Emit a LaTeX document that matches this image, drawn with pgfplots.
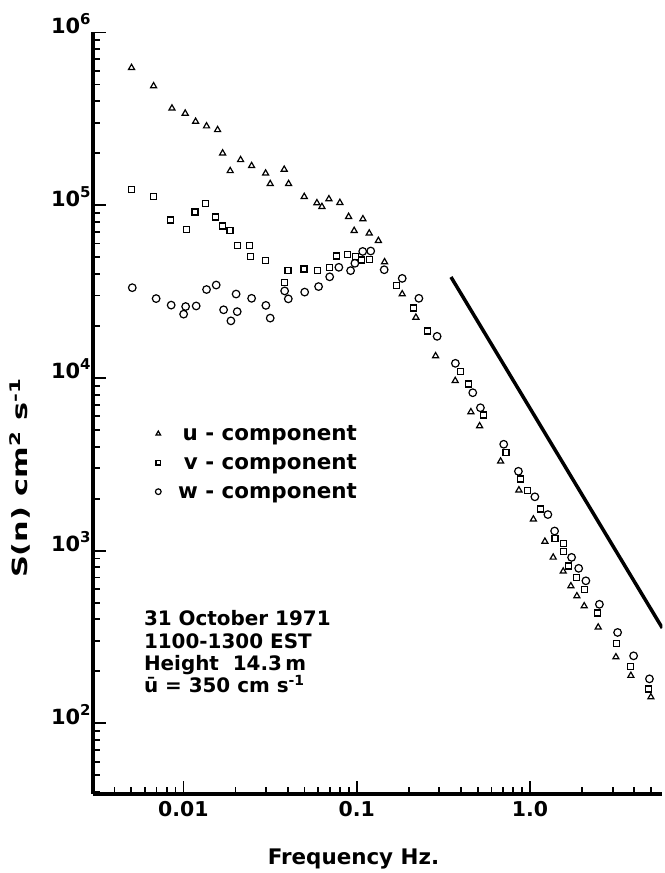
\documentclass[border=0pt]{standalone}
\usepackage{fontspec}
\setmainfont{DejaVu Sans}
\usepackage{pgfplots}
\pgfplotsset{compat=1.18}

% power-of-ten tick labels in the text font
\newcommand{\tlab}[1]{\fontsize{21}{21}\selectfont\bfseries 10\raisebox{9bp}{\fontsize{15}{15}\selectfont\bfseries #1}}

\pgfplotstableread{
f S
0.00502 625000
0.00673 490000
0.00859 364000
0.01024 340000
0.01176 305000
0.0136 287000
0.01575 273000
0.01684 200000
0.01862 158000
0.02138 183000
0.02475 169000
0.02981 153000
0.03169 133000
0.03817 161000
0.04046 133000
0.0498 112000
0.05893 103000
0.063 98000
0.06913 108600
0.07998 103400
0.08981 85800
0.0967 71200
0.1086 83200
0.1181 68800
0.1334 62300
0.1448 46900
0.1831 30600
0.2196 22400
0.2853 13400
0.3702 9630
0.456 6350
0.512 5270
0.6767 3290
0.863 2240
1.046 1520
1.219 1130
1.361 914
1.555 759
1.722 624
1.865 546
2.055 478
2.475 360
3.132 242
3.821 189
4.985 142
}\ucomp

\pgfplotstableread{
f S
0.00502 123600
0.00675 112000
0.00844 82100
0.01047 72100
0.01165 91300
0.01343 102600
0.01534 85500
0.01675 75800
0.01855 71600
0.02044 58300
0.02419 58500
0.02442 50300
0.02965 47700
0.03817 35600
0.0401 42000
0.0496 42700
0.0597 42000
0.06977 43500
0.07687 50800
0.0881 51700
0.0989 50300
0.1067 48200
0.1181 48600
0.1699 34200
0.2118 25400
0.2552 18700
0.3967 10860
0.4413 9220
0.5385 6100
0.7261 3700
0.877 2600
0.966 2235
1.151 1741
1.394 1175
1.555 1099
1.555 991
1.67 814
1.865 697
2.055 595
2.455 435
3.15 289
3.821 214
4.823 158
}\vcomp

\pgfplotstableread{
f S
0.00507 33300
0.00696 28800
0.0085 26400
0.0103 25900
0.01003 23400
0.01185 26100
0.0136 32500
0.01546 34500
0.01706 24800
0.02014 30600
0.02044 24200
0.0188 21400
0.02475 28900
0.02992 26300
0.03169 22200
0.0384 31900
0.0403 28700
0.0501 31400
0.06026 33800
0.06985 38500
0.0789 43700
0.0922 41800
0.0976 46100
0.1083 54000
0.1205 54300
0.1441 42300
0.1831 37700
0.2285 28900
0.2911 17410
0.3711 12150
0.4674 8210
0.5175 6720
0.7053 4130
0.8573 2880
1.067 2050
1.268 1618
1.387 1299
1.738 914
1.91 790
2.101 669
2.515 489
3.203 336
3.962 246
4.89 181
}\wcomp

% -5/3 reference slope
\pgfplotstableread{
f S
0.35 38400
5.8 356.6
}\slopeline

\begin{document}
\begin{tikzpicture}
\begin{axis}[
  at={(0,0)}, anchor=south west,
  scale only axis, width=569.5bp, height=761.5bp,
  xmode=log, ymode=log,
  xmin=0.003, xmax=5.8, ymin=39, ymax=1e6,
  axis x line=bottom, axis y line=left,
  axis line style={-, line width=3.6bp, black},
  tick align=inside,
  major tick length=13bp, minor tick length=7bp,
  tick style={black, line width=1.8bp},
  xtick={0.01,0.1,1}, xticklabels={0.01,0.1,1.0},
  minor xtick={0.004,0.005,0.006,0.007,0.008,0.009,0.02,0.03,0.04,0.05,0.06,0.07,0.08,0.09,0.2,0.3,0.4,0.5,0.6,0.7,0.8,0.9,2,3,4,5},
  ytick={100,1000,10000,100000,1000000},
  yticklabels={\tlab{2},\tlab{3},\tlab{4},\tlab{5},\tlab{6}},
  minor ytick={40,50,60,70,80,90,200,300,400,500,600,700,800,900,2000,3000,4000,5000,6000,7000,8000,9000,20000,30000,40000,50000,60000,70000,80000,90000,200000,300000,400000,500000,600000,700000,800000,900000},
  xticklabel style={font=\fontsize{20.5}{20.5}\selectfont\bfseries, inner sep=0pt, anchor=north, yshift=-7bp},
  yticklabel style={inner sep=0pt, anchor=south east, xshift=-2bp, yshift=-1.5bp},
  legend cell align=right,
  legend style={draw=none, fill=none, at={(0.4639,0.4859)}, anchor=north east,
    inner sep=0pt, row sep=8bp, column sep=17bp,
    font=\fontsize{21.5}{21.5}\selectfont\bfseries,
    nodes={inner sep=0pt, text height=16bp, text depth=5bp}},
  legend image code/.code={\draw[#1, every mark/.append style={scale=0.75}] plot coordinates {(0bp,1bp)};},
]
\addplot[only marks, black, mark=triangle, mark size=3.5bp, mark options={line width=1.2bp}] table {\ucomp};
\addlegendentry{u - component}
\addplot[only marks, black, mark=square, mark size=3bp, mark options={line width=1.2bp}] table {\vcomp};
\addlegendentry{v - component}
\addplot[only marks, black, mark=o, mark size=3.8bp, mark options={line width=1.2bp}] table {\wcomp};
\addlegendentry{w - component}
\addplot[black, line width=3.5bp, forget plot] table {\slopeline};
\end{axis}

\begin{scope}[every node/.style={inner sep=0pt, font=\fontsize{20}{20}\selectfont\bfseries}]
\node[anchor=base west] at (51bp,168bp) {31 October 1971};
\node[anchor=base west] at (51bp,145.7bp) {1100-1300 EST};
\node[anchor=base west] at (51bp,123.4bp) {Height\ \ 14.3\,m};
\node[anchor=base west] at (51bp,101.1bp) {ū = 350 cm s\textsuperscript{-1}};
\node[anchor=base, font=\fontsize{21.5}{21.5}\selectfont\bfseries] at (260.7bp,-70bp) {Frequency Hz.};
\node[anchor=base east, rotate=90, font=\fontsize{21}{21}\selectfont\bfseries] at (-64.8bp,416bp) {\scalebox{1.45}[1]{S(n)\ cm\textsuperscript{2}\ s\textsuperscript{-1}}};
\end{scope}

\path[use as bounding box] (-92.8bp,-79bp) rectangle (569.5bp,794bp);
\end{tikzpicture}
\end{document}
